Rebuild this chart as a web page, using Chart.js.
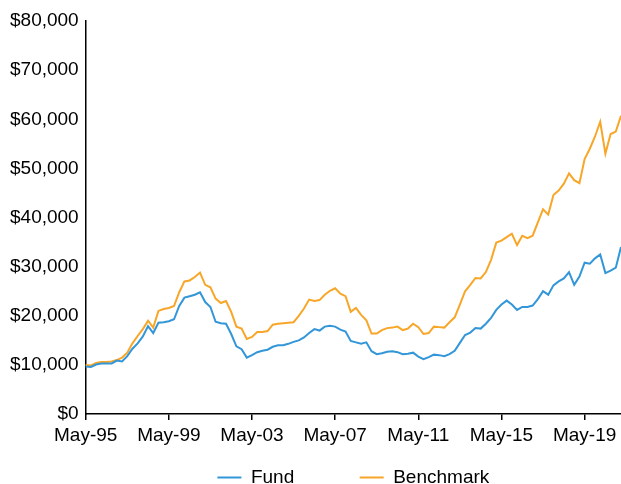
<!DOCTYPE html>
<html>
<head>
<meta charset="utf-8">
<script src="https://cdn.jsdelivr.net/npm/chart.js@4.4.1/dist/chart.umd.min.js"></script>
<style>
  html, body { margin: 0; padding: 0; background: #fff; overflow: hidden; }
  #wrap { width: 621px; height: 484px; }
</style>
</head>
<body>
<div id="wrap"><canvas id="growth"></canvas></div>
<script>
// growth of $10,000, one value per quarter starting May-95
const fund = [
  9700, 9600, 10100, 10300, 10300, 10300, 10900, 10700, 11800, 13300,
  14400, 15800, 17900, 16500, 18600, 18700, 18900, 19300, 22000, 23700,
  24000, 24300, 24800, 22800, 21800, 18800, 18500, 18400, 16300, 13800,
  13200, 11500, 12000, 12600, 12900, 13100, 13700, 14000, 14000, 14300,
  14700, 15000, 15600, 16500, 17300, 17000, 17800, 18000, 17800, 17200,
  16800, 14900, 14600, 14300, 14600, 12800, 12200, 12400, 12700, 12800,
  12600, 12200, 12300, 12500, 11700, 11200, 11600, 12100, 12000, 11800,
  12200, 12900, 14500, 16100, 16600, 17500, 17400, 18400, 19600, 21200,
  22300, 23100, 22300, 21200, 21800, 21800, 22100, 23400, 25000, 24300,
  26200, 27000, 27600, 28900, 26300, 28000, 30800, 30600, 31700, 32500,
  28700, 29200, 29800, 34000
];
const benchmark = [
  10000, 9900, 10400, 10600, 10600, 10700, 11000, 11500, 12500, 14400,
  15900, 17300, 19000, 17600, 21000, 21400, 21600, 22000, 24800, 27000,
  27200, 27900, 28800, 26300, 25800, 23500, 22600, 23000, 20800, 17800,
  17400, 15300, 15700, 16700, 16700, 16900, 18200, 18400, 18500, 18600,
  18700, 20000, 21500, 23300, 23000, 23200, 24300, 25100, 25600, 24500,
  24000, 20800, 21600, 20200, 19100, 16400, 16400, 17100, 17500, 17600,
  17800, 17100, 17400, 18400, 17700, 16300, 16500, 17800, 17700, 17600,
  18700, 19700, 22300, 25000, 26300, 27700, 27600, 28900, 31400, 34900,
  35300, 36000, 36700, 34400, 36300, 35800, 36300, 39000, 41700, 40600,
  44600, 45500, 46900, 49000, 47600, 47000, 51900, 54000, 56500, 59500,
  53000, 57000, 57500, 60700
];
const seriesNames = ['Fund', 'Benchmark'];
const quarterMonths = ['May', 'Aug', 'Nov', 'Feb'];
const startYear = 1995;
const yTicks = { min: 0, max: 80000, step: 10000 };
const labelEvery = 16; // May every 4 years

const FUND_BLUE = '#3296d8';
const BENCH_ORANGE = '#f8a628';
const FONT = '"Liberation Sans", Arial, sans-serif';

// quarter labels like May-95, Aug-95, Nov-95, Feb-96 ...
const labels = fund.map((_, i) => {
  const m = quarterMonths[i % 4];
  const yr = startYear + Math.floor((i + 1) / 4);
  return m + '-' + String(yr % 100).padStart(2, '0');
});

new Chart(document.getElementById('growth'), {
  type: 'line',
  data: {
    labels: labels,
    datasets: [
      { label: seriesNames[0], data: fund, borderColor: FUND_BLUE, backgroundColor: FUND_BLUE,
        borderWidth: 2, pointRadius: 0, tension: 0 },
      { label: seriesNames[1], data: benchmark, borderColor: BENCH_ORANGE, backgroundColor: BENCH_ORANGE,
        borderWidth: 2, pointRadius: 0, tension: 0 }
    ]
  },
  options: {
    responsive: true,
    maintainAspectRatio: false,
    animation: false,
    events: [],
    layout: { padding: { left: 3, top: 21, right: 0, bottom: -13 } },
    scales: {
      x: {
        type: 'category',
        offset: false,
        grid: { display: true, drawOnChartArea: false, drawTicks: true, tickLength: 6, color: '#000', lineWidth: 1.5 },
        border: { display: true, color: '#000', width: 1.5 },
        ticks: {
          autoSkip: false,
          maxRotation: 0,
          padding: -4,
          color: '#000',
          font: { family: FONT, size: 19, lineHeight: 2.1 },
          callback: (v, i) => (i % labelEvery === 0 ? labels[i] : null)
        }
      },
      y: {
        min: yTicks.min,
        max: yTicks.max,
        grid: { display: false, drawTicks: false },
        border: { display: true, color: '#000', width: 1.5 },
        ticks: {
          stepSize: yTicks.step,
          padding: 7,
          color: '#000',
          font: { family: FONT, size: 19 },
          callback: v => '$' + v.toLocaleString('en-US')
        }
      }
    },
    plugins: {
      tooltip: { enabled: false },
      legend: {
        position: 'bottom',
        fullSize: false,
        onClick: () => {},
        labels: {
          boxWidth: 24,
          boxHeight: 2,
          padding: 16,
          color: '#000',
          font: { family: FONT, size: 19 },
          // empty middle entry only widens the gap between the two keys
          generateLabels: chart => {
            const items = Chart.defaults.plugins.legend.labels.generateLabels(chart);
            items.forEach(it => { it.lineWidth = 0; });
            const gap = { text: '', fillStyle: 'rgba(0,0,0,0)', strokeStyle: 'rgba(0,0,0,0)', lineWidth: 0, hidden: false };
            return [items[0], gap, items[1]];
          }
        }
      }
    }
  }
});
</script>
</body>
</html>
